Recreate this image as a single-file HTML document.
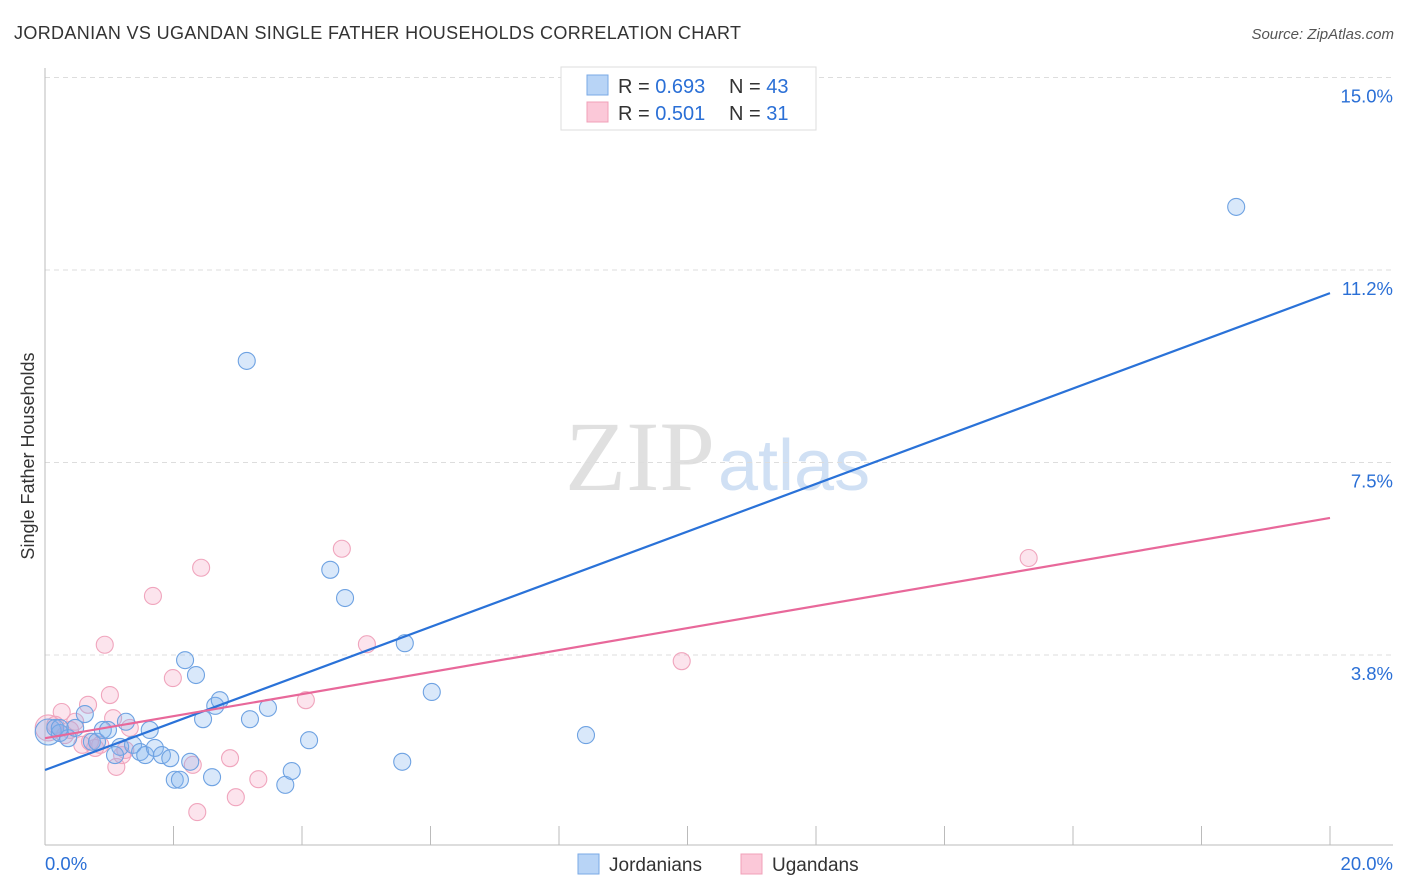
<!DOCTYPE html>
<html><head><meta charset="utf-8"><style>
body{margin:0;background:#fff;font-family:"Liberation Sans",sans-serif;}
svg{display:block}
</style></head><body>
<svg id="chart" width="1406" height="892" xmlns="http://www.w3.org/2000/svg">
<text x="14" y="39" font-size="18" fill="#333" textLength="727">JORDANIAN VS UGANDAN SINGLE FATHER HOUSEHOLDS CORRELATION CHART</text>
<text x="1394" y="39" font-size="15" fill="#555" font-style="italic" text-anchor="end">Source: ZipAtlas.com</text>
<text x="715" y="490" font-size="100" fill="#e0e0e0" font-family="Liberation Serif,serif" text-anchor="end">ZIP</text>
<text x="718" y="490" font-size="72" fill="#d0e0f4">atlas</text>
<g id="grid"></g>
<g id="axes"></g>
<g id="marks"></g>
<text transform="translate(34,456) rotate(-90)" font-size="18" fill="#333" text-anchor="middle">Single Father Households</text>
<g>
<rect x="561" y="67" width="255" height="63" fill="#fff" stroke="#ddd"/>
<rect x="587" y="75" width="21" height="20" fill="#b8d4f6" stroke="#7aaae6"/>
<rect x="587" y="102" width="21" height="20" fill="#fbc8d8" stroke="#f0a0b8"/>
<text x="618" y="93" font-size="20" fill="#333">R = <tspan fill="#2a6fd6">0.693</tspan></text>
<text x="729" y="93" font-size="20" fill="#333">N = <tspan fill="#2a6fd6">43</tspan></text>
<text x="618" y="120" font-size="20" fill="#333">R = <tspan fill="#2a6fd6">0.501</tspan></text>
<text x="729" y="120" font-size="20" fill="#333">N = <tspan fill="#2a6fd6"> 31</tspan></text>
</g>
<g>
<rect x="578" y="854" width="21" height="20" fill="#b8d4f6" stroke="#7aaae6"/>
<text x="609" y="871" font-size="19" fill="#333">Jordanians</text>
<rect x="741" y="854" width="21" height="20" fill="#fbc8d8" stroke="#f0a0b8"/>
<text x="772" y="871" font-size="19" fill="#333">Ugandans</text>
</g>
</svg>
<script>
const yTicks=[3.75,7.5,11.25,15];
const yTickLabels=["3.8%","7.5%","11.2%","15.0%"];
const xTickLabels=["0.0%","20.0%"];
const blueX=[.05,.16,.23,.36,.47,.62,.73,.81,.90,.98,1.17,1.26,1.37,1.48,1.56,1.63,1.71,1.82,1.95,2.02,2.10,2.18,2.26,2.35,2.46,2.60,2.65,2.72,3.14,3.19,3.47,3.74,3.84,4.11,4.44,4.67,5.56,5.60,6.02,8.42,18.54,1.09,.23];
const blueY=[2.25,2.33,2.23,2.13,2.33,2.60,2.06,2.06,2.29,2.29,1.96,2.45,2.00,1.86,1.80,2.29,1.94,1.80,1.74,1.32,1.32,3.65,1.67,3.36,2.50,1.37,2.76,2.87,9.48,2.50,2.72,1.22,1.49,2.09,5.41,4.86,1.67,3.98,3.03,2.19,12.48,1.80,2.33];
const pinkX=[.05,.16,.26,.39,.47,.58,.67,.78,.86,.93,1.01,1.06,1.11,1.20,1.32,1.68,1.99,2.30,2.37,2.43,2.88,2.97,3.32,4.06,4.62,5.01,9.91,15.31,1.25,.31,.70];
const pinkY=[2.33,2.39,2.64,2.29,2.45,2.00,2.78,1.94,2.00,3.95,2.97,2.52,1.57,1.80,2.33,4.90,3.30,1.61,0.69,5.45,1.74,0.98,1.33,2.87,5.82,3.96,3.63,5.64,1.90,2.19,2.06];
const blueLine=[1.51,10.8];
const pinkLine=[2.13,6.42];
const NS="http://www.w3.org/2000/svg";
const X=v=>45+v/20*1285;
const Y=v=>847.5-v*51.33;
function mk(tag,attrs,parent){const e=document.createElementNS(NS,tag);for(const k in attrs)e.setAttribute(k,attrs[k]);document.getElementById(parent).appendChild(e);return e;}
yTicks.forEach((t,i)=>{
 const g=mk('line',{x1:45,x2:1393,y1:Y(t),y2:Y(t),stroke:'#ddd','stroke-dasharray':'5,4'},'grid');
 
 
 const l=mk('text',{x:1393,y:Y(t)+25,'font-size':18.5,fill:'#2a6fd6','text-anchor':'end'},'grid');
 l.textContent=yTickLabels[i];
 
 
});
const ax=mk('line',{x1:45,x2:45,y1:68,y2:845,stroke:'#bbb'},'axes');


const bx=mk('line',{x1:45,x2:1393,y1:845,y2:845,stroke:'#bbb'},'axes');


for(let i=0;i<=10;i++){
 const t=mk('line',{x1:X(i*2),x2:X(i*2),y1:826,y2:845,stroke:'#bbb'},'axes');
 
 
}
[[0,'start',45],[20,'end',1393]].forEach((a,i)=>{
 const l=mk('text',{x:a[2],y:870,'font-size':18.5,fill:'#2a6fd6','text-anchor':a[1]},'axes');
 l.textContent=xTickLabels[i];
 
 
});
function dots(xs,ys,fill,stroke,name){
 xs.forEach((x,i)=>{
  const c=mk('circle',{cx:X(x),cy:Y(ys[i]),r:i===0?13:8.5,fill:fill,stroke:stroke,'stroke-width':1.1},'marks');
  
  
 });
}
dots(pinkX,pinkY,'rgba(244,165,195,0.3)','#f0a5bd','point-ugandan');
dots(blueX,blueY,'rgba(130,178,238,0.3)','#6ea2e2','point-jordanian');
const bl=mk('line',{x1:X(0),y1:Y(blueLine[0]),x2:X(20),y2:Y(blueLine[1]),stroke:'#2a72d8','stroke-width':2.2},'marks');


const pl=mk('line',{x1:X(0),y1:Y(pinkLine[0]),x2:X(20),y2:Y(pinkLine[1]),stroke:'#e8689a','stroke-width':2.2},'marks');


</script>
</body></html>
